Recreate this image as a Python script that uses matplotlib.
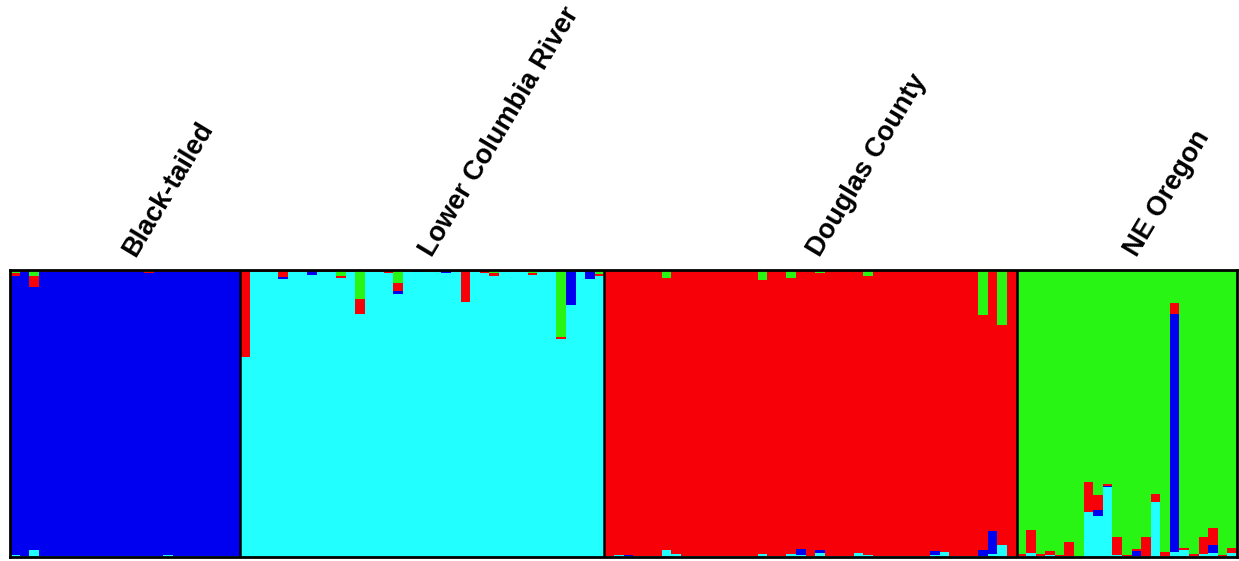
import numpy as np
import matplotlib
matplotlib.use("Agg")
import matplotlib.pyplot as plt

# Group labels and sizes (individuals per population)
groups = ["Black-tailed", "Lower Columbia River", "Douglas County", "NE Oregon"]
sizes = [24, 38, 43, 23]

# Membership proportions per individual, cluster order bottom-up: cyan, blue, red, green
# --- Black-tailed ---
bt_cyan = [.007, .002, .025, .002, .002, .002, .002, .002, .004, .004, .002, .002,
           .003, .002, .002, .002, .008, .002, .002, .002, .002, .004, .004, .002]
bt_blue = [.971, .992, .916, .991, .992, .991, .992, .991, .990, .989, .992, .992,
           .990, .992, .986, .992, .986, .991, .992, .992, .991, .990, .989, .992]
bt_red = [.010, .003, .038, .004, .003, .004, .003, .004, .003, .004, .003, .003,
          .004, .003, .004, .003, .003, .004, .003, .003, .004, .003, .004, .003]
bt_green = [.012, .003, .021, .003, .003, .003, .003, .003, .003, .003, .003, .003,
            .003, .003, .008, .003, .003, .003, .003, .003, .003, .003, .003, .003]

# --- Lower Columbia River ---
lc_cyan = [.696, .994, .994, .994, .970, .994, .994, .981, .994, .994,
           .972, .994, .848, .994, .994, .990, .918, .994, .992, .994,
           .994, .989, .994, .887, .994, .988, .978, .993, .994, .994,
           .982, .992, .994, .758, .877, .994, .969, .980]
lc_blue = [0, 0, 0, 0, .006, 0, 0, .016, 0, 0,
           0, 0, 0, 0, 0, 0, .009, 0, .005, 0,
           0, .008, 0, 0, 0, 0, 0, 0, 0, 0,
           0, 0, 0, 0, .120, 0, .028, 0]
lc_red = [.300, .003, .003, .003, .020, .003, .003, .003, .003, .003,
          .006, .003, .052, .003, .003, .007, .026, .003, .003, .003,
          .003, .003, .003, .110, .003, .007, .012, .004, .003, .003,
          .008, .003, .003, .010, .003, .003, .003, .006]
lc_green = [.004, .003, .003, .003, .004, .003, .003, .000, .003, .003,
            .022, .003, .100, .003, .003, .003, .047, .003, .000, .003,
            .003, .000, .003, .003, .003, .005, .010, .003, .003, .003,
            .010, .005, .003, .232, .000, .003, .000, .014]

# --- Douglas County ---
dc_cyan = [.003, .006, .002, .005, .003, .003, .023, .012, .005, .003,
           .003, .003, .003, .003, .003, .003, .010, .003, .003, .012,
           .006, .003, .015, .003, .003, .003, .014, .008, .003, .003,
           .003, .003, .003, .003, .006, .018, .005, .003, .003, .003,
           .010, .041, .003]
dc_blue = [0, 0, .004, 0, 0, 0, 0, 0, 0, 0,
           0, 0, 0, 0, 0, 0, 0, 0, 0, 0,
           .021, 0, .008, 0, 0, 0, 0, 0, 0, 0,
           0, 0, 0, 0, .015, 0, 0, 0, 0, .021,
           .080, 0, 0]
dc_red = [.993, .991, .991, .992, .994, .994, .949, .985, .992, .994,
          .994, .994, .994, .994, .994, .994, .955, .994, .994, .960,
          .970, .994, .967, .994, .994, .994, .983, .970, .994, .994,
          .994, .994, .994, .994, .976, .979, .992, .994, .994, .818,
          .902, .769, .994]
dc_green = [.004, .003, .003, .003, .003, .003, .028, .003, .003, .003,
            .003, .003, .003, .003, .003, .003, .035, .003, .003, .028,
            .003, .003, .010, .003, .003, .003, .003, .022, .003, .003,
            .003, .003, .003, .003, .003, .003, .003, .003, .003, .158,
            .008, .190, .003]

# --- NE Oregon ---
ne_cyan = [.004, .014, .005, .008, .002, .002, .002, .157, .143, .244,
           .006, .002, .003, .005, .192, .002, .017, .026, .002, .010,
           .014, .003, .014]
ne_blue = [0, 0, 0, 0, 0, 0, 0, 0, .022, .005,
           0, 0, .019, 0, 0, 0, .831, 0, 0, 0,
           .027, 0, 0]
ne_red = [.005, .079, .005, .012, .004, .052, .003, .105, .050, .005,
          .062, .004, .005, .066, .026, .015, .037, .006, .010, .058,
          .060, .005, .017]
ne_green = [.991, .907, .990, .980, .994, .944, .995, .738, .785, .746,
            .932, .994, .973, .929, .782, .983, .115, .968, .988, .932,
            .899, .992, .969]

cyan = np.array(bt_cyan + lc_cyan + dc_cyan + ne_cyan)
blue = np.array(bt_blue + lc_blue + dc_blue + ne_blue)
red = np.array(bt_red + lc_red + dc_red + ne_red)
green = np.array(bt_green + lc_green + dc_green + ne_green)

colors = {"cyan": "#22ffff", "blue": "#0000f0", "red": "#f80008", "green": "#29f514"}

fig = plt.figure(figsize=(12.39, 5.61), dpi=100)
ax = fig.add_axes([10 / 1239, 1 - 557 / 561, 1227 / 1239, 287 / 561])

x = np.arange(len(cyan))
bottom = np.zeros(len(cyan))
for vals, key in [(cyan, "cyan"), (blue, "blue"), (red, "red"), (green, "green")]:
    ax.bar(x, vals, width=1.0, bottom=bottom, align="edge", color=colors[key],
           linewidth=0, antialiased=False)
    bottom = bottom + vals

ax.set_xlim(0, len(cyan))
ax.set_ylim(0, 1)
ax.set_xticks([]); ax.set_yticks([])
for s in ax.spines.values():
    s.set_linewidth(2.0)
    s.set_color("black")

edges = np.cumsum(sizes)
for e in edges[:-1]:
    ax.axvline(e, color="black", lw=1.8)

starts = np.concatenate([[0], edges[:-1]])
for name, s0, n in zip(groups, starts, sizes):
    ax.annotate(name, xy=(s0 + n / 2, 1.0), xycoords=("data", "axes fraction"),
                xytext=(7, 9), textcoords="offset points",
                rotation=59, rotation_mode="anchor", ha="left", va="baseline",
                fontsize=19.5, fontweight="bold", family="Liberation Sans")

fig.savefig("out.png", dpi=100)
